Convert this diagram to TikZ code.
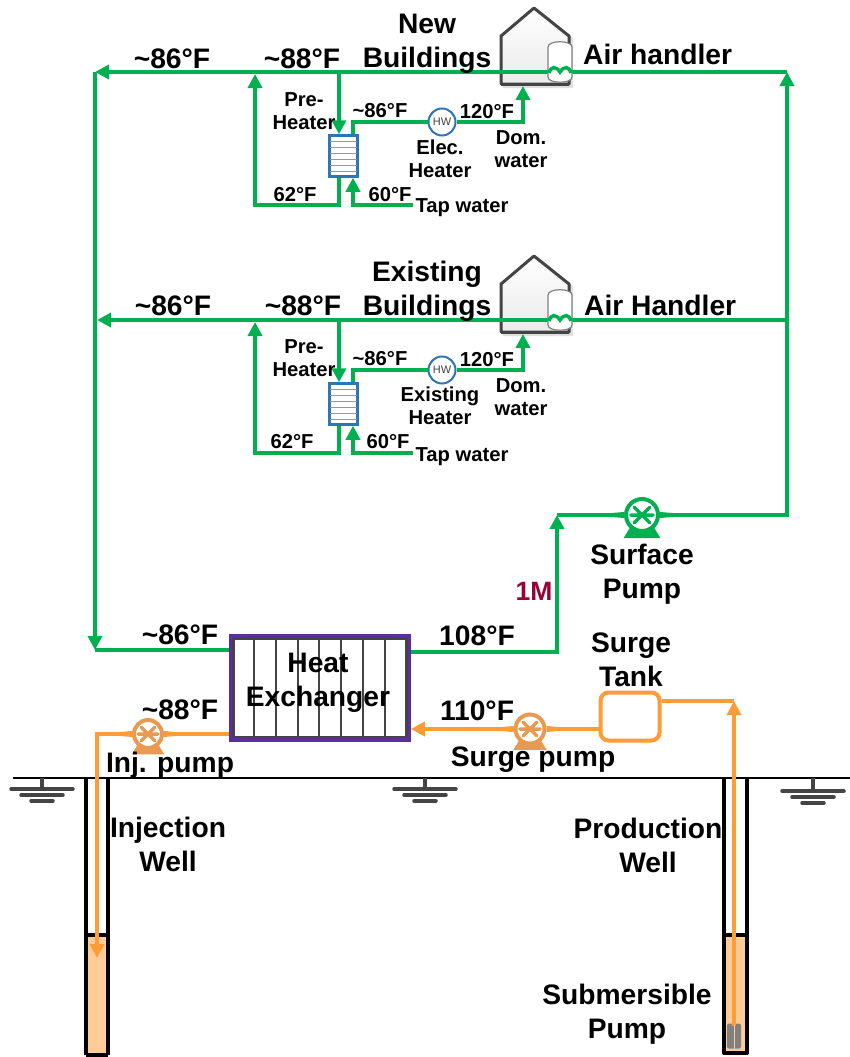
\documentclass[tikz,border=0pt]{standalone}
\usepackage{fontspec}
\setmainfont{Liberation Sans}
\usetikzlibrary{arrows.meta}
\definecolor{pgreen}{HTML}{00B050}
\definecolor{porange}{HTML}{FF9C35}
\definecolor{pumporange}{HTML}{E99A50}
\definecolor{water}{HTML}{FFCC99}
\definecolor{hxpurple}{HTML}{5B2D9E}
\definecolor{phblue}{HTML}{2E75B6}
\definecolor{maroon}{HTML}{990033}
\definecolor{dgray}{HTML}{444444}
\tikzset{
  gline/.style={draw=pgreen,line width=4pt},
  oline/.style={draw=porange,line width=4pt},
  garrow/.style={gline,-{Triangle[length=14pt,width=14pt]}},
  oarrow/.style={oline,-{Triangle[length=14pt,width=14pt]}},
  big/.style={font=\fontsize{28.2}{34}\selectfont\bfseries,align=center,inner sep=0pt,text=black},
  small/.style={font=\fontsize{20.2}{23}\selectfont\bfseries,align=center,inner sep=0pt,text=black},
  bigone/.style={big,text height=20pt,text depth=0pt},
  smallone/.style={small,text height=14pt,text depth=0pt},
  preheater/.style={draw=phblue,line width=2.5pt,fill=white,minimum width=28pt,minimum height=41pt,inner sep=0pt},
  hwbox/.style={circle,draw=phblue,line width=2pt,fill=white,minimum size=27pt,inner sep=0pt,font=\fontsize{11}{12}\selectfont,text=dgray},
  wellwall/.style={draw=black,line width=4pt},
  groundbar/.style={draw=dgray,line width=3.5pt,line cap=round}
}
\newcommand{\pumpsym}[6]{% name,x,y,color,radius,scale
  \fill[#4] (#2-#5*1.7,#3-2) -- (#2-#5,#3-3) -- (#2-#5,#3+3) -- (#2-#5*1.7,#3+2) -- cycle;
  \fill[#4] (#2+#5*1.7,#3-2) -- (#2+#5,#3-3) -- (#2+#5,#3+3) -- (#2+#5*1.7,#3+2) -- cycle;
  \fill[#4] (#2-#5*0.62,#3+#5*0.62) -- (#2+#5*0.62,#3+#5*0.62) -- (#2+#5*1.02,#3+#5*1.28) -- (#2-#5*1.02,#3+#5*1.28) -- cycle;
  \node[circle,draw=#4,line width=4pt,fill=white,minimum size=#5*2pt-4pt,inner sep=0pt] (#1) at (#2,#3) {};
  \draw[#4,line width=3.5pt,line cap=round] (#2-#5*.62,#3) -- (#2+#5*.62,#3)
    (#2-#5*.42,#3-#5*.42) -- (#2+#5*.42,#3+#5*.42)
    (#2-#5*.42,#3+#5*.42) -- (#2+#5*.42,#3-#5*.42);
}
\newcommand{\housesym}[2]{% name, y offset
  \fill[black!12] (503,38+#2) -- (536,10+#2) -- (573,38+#2) -- (573,88+#2) -- (503,88+#2) -- cycle;
  \node[inner sep=0pt,minimum size=0pt] (#1) at (534,46+#2) {};
  \draw[draw=dgray,line width=3pt,line join=round,top color=white,bottom color=black!8]
    (501,36+#2) -- (534,8+#2) -- (569,36+#2) -- (569,84+#2) -- (501,84+#2) -- cycle;
  \draw[draw=dgray,line width=3pt] (501,84+#2) -- (569,84+#2);
}
\newcommand{\tanksym}[1]{% y offset; drawn over the water line
  \draw[draw=gray,line width=1.2pt,fill=white] (548,47+#1) .. controls (548,40+#1) and (572,40+#1) .. (572,47+#1) -- (572,77+#1) .. controls (572,84+#1) and (548,84+#1) .. (548,77+#1) -- cycle;
  \draw[pgreen,line width=3.5pt] (549,73+#1) .. controls (551,66+#1) and (556,66+#1) .. (560,72+#1) .. controls (564,66+#1) and (569,66+#1) .. (571,73+#1);
}
\newcommand{\phlines}[1]{%
  \foreach \k in {1,...,6}{\draw[gray!80,line width=1pt] (330,135+#1+\k*6) -- (357,135+#1+\k*6);}
}
\begin{document}
\begin{tikzpicture}[x=1pt,y=-1pt]
\useasboundingbox (0,0) rectangle (850,1057);
% junctions
\coordinate (rTop) at (787,72);
\coordinate (rMid) at (787,320);
\coordinate (rBot) at (787,515);
\coordinate (lTop) at (95,72);
\coordinate (lMid) at (97,320);
\coordinate (lBot) at (95,650);
% ground
\coordinate (g0) at (13,778); \coordinate (g1) at (850,778);
\draw[black,line width=2.5pt] (g0) -- (g1);
\draw[dgray,line width=4pt] (42,778) -- (42,789) (425,778) -- (425,789) (813,778) -- (813,791);
\foreach \cx/\yy in {42/789,425/789,813/791}{
  \draw[groundbar] (\cx-31,\yy) -- (\cx+31,\yy);
  \draw[groundbar] (\cx-21,\yy+6) -- (\cx+21,\yy+6);
  \draw[groundbar] (\cx-11,\yy+12) -- (\cx+11,\yy+12);
}
% wells
\node[fill=water,minimum width=22pt,minimum height=120pt,inner sep=0pt] (injwater) at (97,995) {};
\node[fill=water,minimum width=23pt,minimum height=118pt,inner sep=0pt] (prodwater) at (735.5,994) {};
\draw[wellwall] (86,778) -- (86,1055) (108,778) -- (108,1055) (86,1055) -- (108,1055) (84,935) -- (110,935);
\draw[wellwall,line join=round] (724,778) -- (724,1053) -- (747,1053) -- (747,778) (722,935) -- (749,935);
\node[fill=gray,rounded corners=2pt,minimum width=14pt,minimum height=25pt,inner sep=0pt] (subpump) at (734,1036) {};
\draw[water,line width=1pt] (subpump.north) -- (subpump.south);
% buildings
\housesym{house1}{0}
\housesym{house2}{248}
% green water loops
\draw[garrow] (rBot) -- (rTop);
\draw[garrow] (rTop) -- (lTop);
\draw[garrow] (rMid) -- (lMid);
\draw[garrow] (lTop) -- (lBot);
% pre-heaters
\node[preheater] (ph1) at (343.5,156) {};
\node[preheater] (ph2) at (343.5,404) {};
\phlines{0}\phlines{248}
\node[hwbox] (hw1) at (442,122) {HW};
\node[hwbox] (hw2) at (442,370) {HW};
\coordinate (a1) at (339,72); \coordinate (a2) at (339,320);
\coordinate (b1) at (339,205); \coordinate (b2) at (339,453);
\coordinate (c1) at (255,205); \coordinate (c2) at (255,453);
\coordinate (d1) at (255,74); \coordinate (d2) at (255,322);
\coordinate (e1) at (413,205); \coordinate (e2) at (413,453);
\coordinate (f1) at (353,205); \coordinate (f2) at (353,453);
\coordinate (h1) at (353,122); \coordinate (h2) at (353,370);
\coordinate (i1) at (523,122); \coordinate (i2) at (523,370);
\coordinate (j1) at (523,86); \coordinate (j2) at (523,334);
\foreach \n in {1,2}{
  \draw[garrow] (a\n) -- (a\n |- ph\n.north);
  \draw[garrow] (a\n |- ph\n.south) -- (b\n) -- (c\n) -- (d\n);
  \draw[garrow] (e\n) -- (f\n) -- (f\n |- ph\n.south);
  \draw[gline] (h\n |- ph\n.north) -- (h\n) -- (hw\n.west);
  \draw[garrow] (hw\n.east) -- (i\n) -- (j\n);
}
\tanksym{0}
\tanksym{248}
% heat exchanger
\node[draw=hxpurple,line width=3.5pt,fill=white,minimum width=178pt,minimum height=104pt,inner sep=0pt] (hx) at (320,688) {};
\draw[dgray,line width=2.5pt] (233.5,638.5) rectangle (406.5,737);
\foreach \lx in {254,276,298,319,341,363,385}{\draw[dgray,line width=2pt] (\lx,638) -- (\lx,737);}
\coordinate (lh) at (230,650);
\coordinate (rh) at (557,652);
\coordinate (up) at (557,515);
\draw[gline] (hx.west |- lh) -- (lBot);
\draw[garrow] (hx.east |- rh) -- (rh) -- (up);
\pumpsym{sfp}{642}{515}{pgreen}{18}{1}
\draw[gline] (up) -- (sfp.west);
\draw[gline] (sfp.east) -- (rBot) -- (rMid);
% orange loop
\node[draw=porange,line width=4pt,rounded corners=8pt,fill=white,minimum width=59pt,minimum height=48pt,inner sep=0pt] (tank) at (630,716.5) {};
\coordinate (wellTop) at (734,701);
\coordinate (wellBot) at (734,1026);
\draw[oarrow] (wellBot) -- (wellTop);
\draw[oline] (tank.east |- wellTop) -- (wellTop);
\pumpsym{sgp}{530}{729}{pumporange}{16.5}{1}
\draw[oline] (tank.west |- sgp) -- (sgp.east);
\draw[oarrow] (sgp.west) -- (hx.east |- sgp);
\pumpsym{ijp}{148}{734}{pumporange}{16}{1}
\coordinate (ijc) at (97,734);
\coordinate (ijt) at (97,958);
\draw[oline] (hx.west |- ijp) -- (ijp.east);
\draw[oarrow] (ijp.west) -- (ijc) -- (ijt);
% labels
\node[big] (tNew) at (427,44) {New\\Buildings};
\node[big] (tExist) at (427,291) {Existing\\Buildings};
\node[bigone] (t1) at (172,58) {\char`\~86°F};
\node[bigone] (t2) at (302,58) {\char`\~88°F};
\node[bigone] (t3) at (173,305) {\char`\~86°F};
\node[bigone] (t4) at (303,305) {\char`\~88°F};
\node[bigone,anchor=west] (t5) at (583,54) {Air handler};
\node[bigone,anchor=west] (t6) at (584,305) {Air Handler};
\node[small] (p1) at (304,111.5) {Pre-\\Heater};
\node[small] (p2) at (304,358.5) {Pre-\\Heater};
\node[smallone] (t7) at (380,110) {\char`\~86°F};
\node[smallone] (t8) at (380,358) {\char`\~86°F};
\node[smallone] (t9) at (487,111) {120°F};
\node[smallone] (t10) at (487,359) {120°F};
\node[small] (dw1) at (521,149) {Dom.\\water};
\node[small] (dw2) at (521,397) {Dom.\\water};
\node[small] (eh) at (440,159) {Elec.\\Heater};
\node[small] (xh) at (440,406) {Existing\\Heater};
\node[smallone] (t11) at (295,194) {62°F};
\node[smallone] (t12) at (292,441) {62°F};
\node[smallone] (t13) at (390,194) {60°F};
\node[smallone] (t14) at (388,441) {60°F};
\node[small] (tw1) at (462,208) {Tap water};
\node[small] (tw2) at (462,457) {Tap water};
\node[bigone] (t15) at (180,634) {\char`\~86°F};
\node[bigone] (t16) at (477,635) {108°F};
\node[bigone] (t17) at (180,709) {\char`\~88°F};
\node[bigone] (t18) at (477,710) {110°F};
\node[big] (hxt) at (318,683) {Heat\\Exchanger};
\node[big] (inj) at (170,765) {Inj. pump};
\node[big] (sgl) at (533,760) {Surge pump};
\node[big,text=maroon,font=\fontsize{26.5}{30}\selectfont\bfseries] (m1) at (534,591) {1M};
\node[big] (sfl) at (642,574) {Surface\\Pump};
\node[big] (stl) at (631,660) {Surge\\Tank};
\node[big] (ijl) at (168,844) {Injection\\Well};
\node[big] (prl) at (648,845) {Production\\Well};
\node[big] (sbl) at (627,1014) {Submersible\\Pump};
\end{tikzpicture}
\end{document}
